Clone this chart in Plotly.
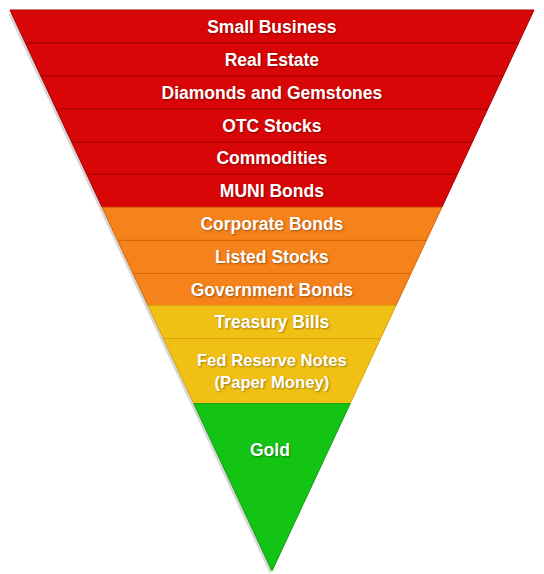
import plotly.graph_objects as go

# Layers of the inverted pyramid (top to bottom)
labels = [
    "Small Business", "Real Estate", "Diamonds and Gemstones", "OTC Stocks",
    "Commodities", "MUNI Bonds", "Corporate Bonds", "Listed Stocks",
    "Government Bonds", "Treasury Bills", "Fed Reserve Notes<br>(Paper Money)", "Gold",
]
# relative area of each layer (funnelarea encodes value as area)
areas = [35.9, 33.7, 31.5, 29.3, 26.4, 25.0, 22.9, 20.7, 18.0, 16.4, 25.9, 27.9]
groups = ["red"] * 6 + ["orange"] * 3 + ["yellow"] * 2 + ["green"]

palette = {"red": "#d80606", "orange": "#f5821a", "yellow": "#f0c014", "green": "#14c414"}
edge = {"red": "#a80000", "orange": "#d8650a", "yellow": "#d8a40a", "green": "#0ea00e"}
colors = [palette[g] for g in groups]
line_colors = [edge[g] for g in groups]
# Gold is labelled separately, placed higher in its layer
texts = [l if l != "Gold" else "" for l in labels]

W, H = 536, 566  # page body has an 8px margin inside the 544x574 window

font = dict(family="Liberation Sans, Arial, sans-serif", size=17.5, color="white",
            weight="bold", shadow="1px 1px 2px rgba(0,0,0,0.35)")

fig = go.Figure()
# soft shadow
fig.add_trace(go.Funnelarea(
    values=areas, labels=labels, textinfo="none",
    baseratio=0, aspectratio=1.0706,
    domain=dict(x=[0.0, 0.9776], y=[0.0, 0.990]),
    marker=dict(colors=["rgba(0,0,0,0.16)"] * len(areas), line=dict(width=0)),
    hoverinfo="skip", showlegend=False,
))
fig.add_trace(go.Funnelarea(
    values=areas, labels=labels, text=texts, textinfo="text",
    baseratio=0, aspectratio=1.0706,
    domain=dict(x=[0.00373, 0.98134], y=[0.0053, 0.99647]),
    marker=dict(colors=colors, line=dict(color=line_colors, width=1)),
    textfont=font,
    textposition="inside",
    showlegend=False,
))
fig.add_annotation(
    text="Gold", x=262 / W, y=1 - 442 / H, xref="paper", yref="paper",
    xanchor="center", yanchor="middle", showarrow=False, font=font,
)
fig.update_layout(
    width=W, height=H, margin=dict(l=0, r=0, t=0, b=0),
    paper_bgcolor="white", plot_bgcolor="white", showlegend=False,
)
fig.write_html("out.html")
